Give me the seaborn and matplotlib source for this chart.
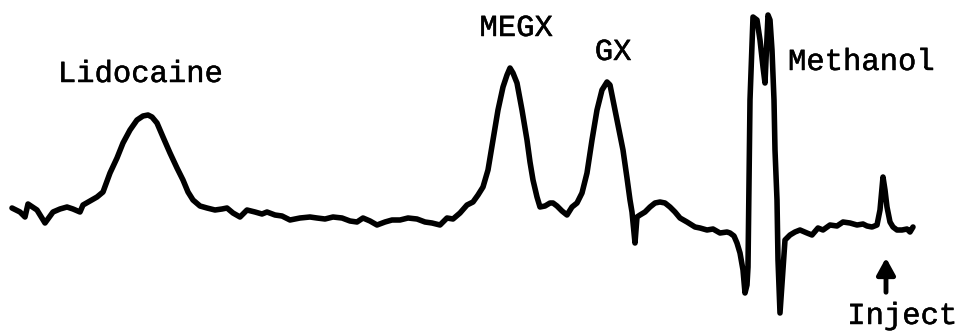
import matplotlib
matplotlib.use("Agg")
import matplotlib.pyplot as plt
import matplotlib.patheffects as pe
import seaborn as sns
import pandas as pd

# Trace (retention position, detector response)
trace_x = [12, 20, 25, 28, 37, 45, 53, 60, 67, 73, 80, 83, 90, 97, 103, 110, 117, 123, 130, 137, 143, 148,
           152, 157, 163, 170, 177, 183, 188, 193, 200, 207, 215, 222, 227, 233, 240, 247, 255, 262, 267,
           275, 282, 290, 300, 310, 317, 325, 333, 342, 350, 357, 363, 370, 377, 385, 392, 400, 408, 417,
           425, 432, 440, 447, 453, 460, 467, 473, 478, 483, 488, 493, 498, 503, 507, 510, 513, 517, 522,
           527, 530, 533, 537, 540, 545, 550, 553, 557, 562, 567, 572, 577, 582, 587, 592, 597, 602, 607,
           610, 613, 618, 623, 627, 630, 632, 633, 635, 637, 640, 645, 650, 655, 660, 665, 670, 675, 680,
           687, 695, 700, 707, 713, 720, 727, 730, 734, 737, 740, 743, 745, 747, 748, 750, 753, 757, 760,
           763, 765, 768, 770, 772, 774, 775, 777, 778, 780, 785, 790, 795, 800, 807, 812, 818, 823, 830,
           837, 843, 850, 857, 863, 867, 872, 877, 880, 883, 885, 887, 890, 893, 897, 902, 907, 910, 913]
trace_y = [208, 212, 217, 204, 210, 223, 212, 209, 207, 209, 212, 205, 201, 197, 192, 173, 158, 143, 130,
           120, 116, 115, 117, 123, 137, 153, 168, 180, 192, 200, 206, 208, 210, 209, 208, 213, 217, 210,
           212, 214, 212, 215, 216, 220, 218, 217, 218, 219, 217, 218, 221, 222, 218, 221, 225, 222, 220,
           220, 218, 219, 222, 223, 225, 218, 219, 213, 205, 202, 195, 187, 170, 140, 110, 87, 75, 68,
           73, 83, 110, 140, 162, 180, 197, 207, 206, 203, 203, 206, 211, 215, 207, 203, 193, 173, 140,
           110, 90, 82, 85, 100, 125, 150, 178, 200, 212, 222, 243, 217, 215, 212, 207, 203, 202, 203,
           207, 212, 218, 222, 227, 228, 230, 229, 233, 232, 233, 236, 243, 253, 270, 293, 285, 267,
           100, 17, 20, 40, 67, 83, 15, 20, 50, 100, 150, 200, 260, 313, 240, 235, 232, 230, 233, 235,
           228, 230, 225, 226, 222, 223, 225, 224, 226, 227, 225, 210, 177, 190, 207, 222, 227, 230, 230,
           229, 232, 227]

peak_labels = ["Lidocaine", "MEGX", "GX", "Methanol"]
label_x = [140, 516, 613, 861]
label_y = [74, 28, 52, 62]
inject_label = "Inject"

df = pd.DataFrame({"x": trace_x, "y": trace_y})

sns.set_style("white")
plt.rcParams["font.family"] = ["Liberation Mono", "DejaVu Sans Mono"]

fig = plt.figure(figsize=(9.64, 3.31), dpi=100)
ax = fig.add_axes([0, 0, 1, 1])
sns.lineplot(data=df, x="x", y="y", sort=False, estimator=None, color="black",
             linewidth=4.0, ax=ax, solid_joinstyle="round", solid_capstyle="round")

thick = [pe.withStroke(linewidth=0.35, foreground="black")]
for t, xx, yy in zip(peak_labels, label_x, label_y):
    ax.text(xx, yy, t, ha="center", va="center", fontsize=22, color="black", path_effects=thick)

ax.annotate("", xy=(886, 255), xytext=(886, 295),
            arrowprops=dict(arrowstyle="-|>,head_length=1.0,head_width=0.55", color="black", lw=3.5))
ax.text(902, 316, inject_label, ha="center", va="center", fontsize=22, color="black", path_effects=thick)

ax.set_xlim(0, 964)
ax.set_ylim(331, 0)
ax.axis("off")
fig.savefig("out.png", dpi=100, facecolor="white")
